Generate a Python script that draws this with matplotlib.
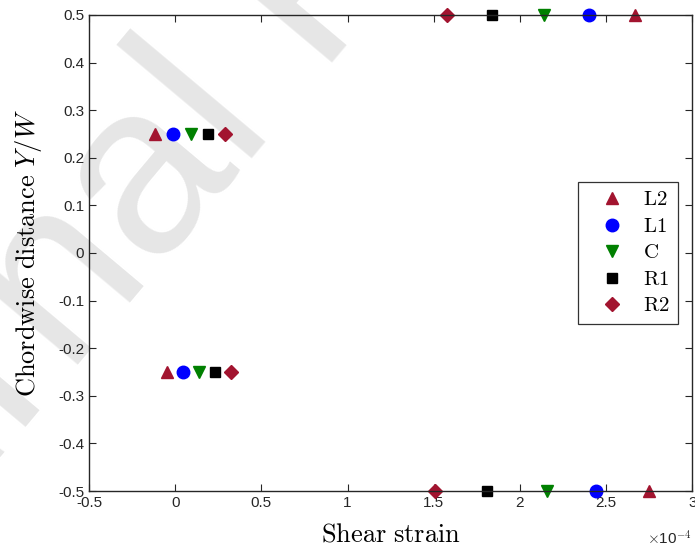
import matplotlib
matplotlib.use('Agg')
import matplotlib.pyplot as plt

# chordwise positions and shear strain (x 1e-4) per gauge
y_pos = [0.5, 0.25, -0.25, -0.5]
L2 = [2.67, -0.115, -0.05, 2.75]
L1 = [2.40, -0.01, 0.045, 2.44]
C = [2.14, 0.09, 0.14, 2.16]
R1 = [1.84, 0.19, 0.23, 1.81]
R2 = [1.58, 0.29, 0.325, 1.51]

dred = (0.635, 0.078, 0.184)
ax_col = (0.15, 0.15, 0.15)

plt.rcParams['font.family'] = ['Liberation Sans', 'DejaVu Sans']
plt.rcParams['mathtext.fontset'] = 'cm'

fig = plt.figure(figsize=(6.95, 5.54), dpi=100)
ax = fig.add_axes([0.128, 0.1137, 0.868, 0.8593])

# watermark behind everything
fig.text(0.46, 1.036, 'Journal Pre-proof', fontsize=175, color=(0.9, 0.9, 0.9),
         rotation=50, ha='center', va='center', zorder=-5)
ax.patch.set_alpha(0)

ax.plot(L2, y_pos, '^', color=dred, ms=9, ls='none', label=r'$\mathrm{L2}$', clip_on=False)
ax.plot(L1, y_pos, 'o', color='blue', ms=9, ls='none', label=r'$\mathrm{L1}$', clip_on=False)
ax.plot(C, y_pos, 'v', color='green', ms=9, ls='none', label=r'$\mathrm{C}$', clip_on=False)
ax.plot(R1, y_pos, 's', color='black', ms=7, ls='none', label=r'$\mathrm{R1}$', clip_on=False)
ax.plot(R2, y_pos, 'D', color=dred, ms=7, ls='none', label=r'$\mathrm{R2}$', clip_on=False)

ax.set_xlim(-0.5, 3)
ax.set_ylim(-0.5, 0.5)
ax.set_xticks([-0.5, 0, 0.5, 1, 1.5, 2, 2.5, 3])
ax.set_xticklabels(['-0.5', '0', '0.5', '1', '1.5', '2', '2.5', '3'])
ax.set_yticks([-0.5, -0.4, -0.3, -0.2, -0.1, 0, 0.1, 0.2, 0.3, 0.4, 0.5])
ax.set_yticklabels(['-0.5', '-0.4', '-0.3', '-0.2', '-0.1', '0', '0.1', '0.2', '0.3', '0.4', '0.5'])
ax.tick_params(direction='in', top=True, right=True, labelsize=11, colors=ax_col, length=5)
for s in ax.spines.values():
    s.set_color(ax_col)
    s.set_linewidth(1.0)

ax.set_xlabel(r'$\mathrm{Shear\ strain}$', fontsize=19, labelpad=9)
ax.set_ylabel(r'$\mathrm{Chordwise\ distance}\ Y/W$', fontsize=19, labelpad=10)
ax.text(1.0, -0.08, r'$\times$10$^{\mathsf{-4}}$', transform=ax.transAxes, ha='right', va='top',
        fontsize=11, color=ax_col)

leg = ax.legend(loc='center right', fontsize=15, frameon=True, fancybox=False,
                edgecolor='black', borderpad=0.4, labelspacing=0.36, handletextpad=0.24,
                handlelength=2.5, borderaxespad=0, bbox_to_anchor=(0.977, 0.5))
leg.get_frame().set_linewidth(0.9)

fig.savefig('out.png', dpi=100)
